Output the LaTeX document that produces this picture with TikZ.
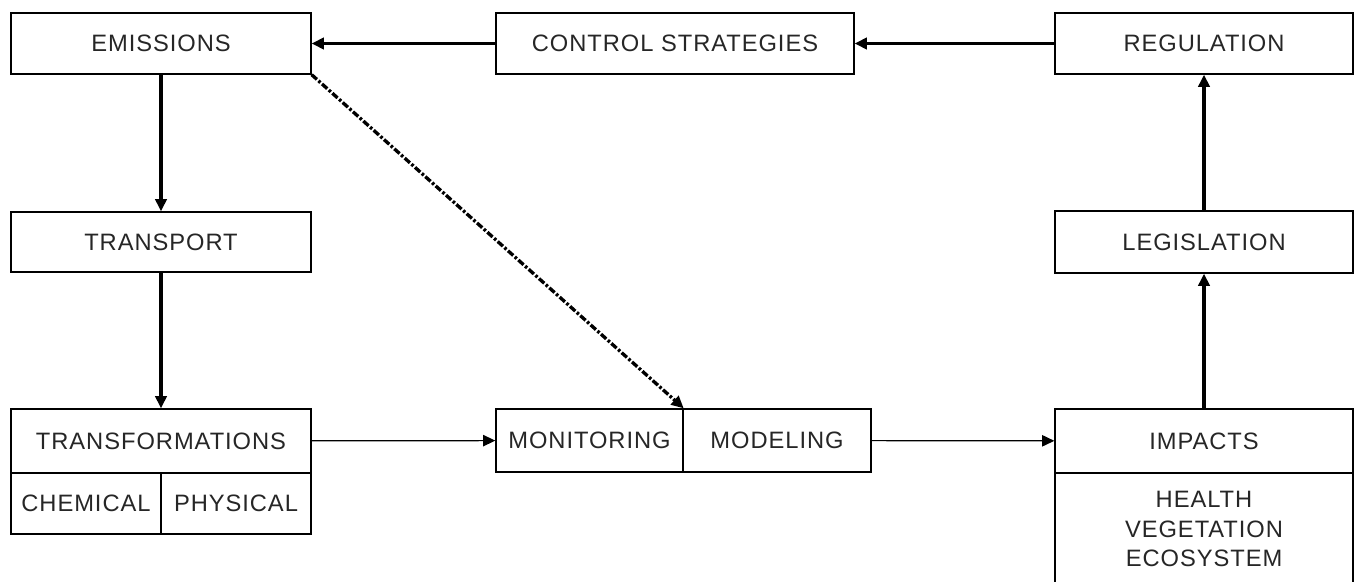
\documentclass[tikz,border=0pt]{standalone}
\usepackage{fontspec}
\setmainfont[LetterSpace=4]{Liberation Sans}
\usetikzlibrary{arrows.meta}

\begin{document}
\begin{tikzpicture}[x=0.02cm,y=-0.02cm,
every node/.style = {
shape= rectangle,
draw,
line width     = 0.8pt,
inner sep      = 0pt,
align          = center,
font           = \fontsize{13.5}{17}\selectfont,
text           = black!85},
thick edge/.style = {-{Triangle[length=7pt,width=6.5pt]},
line width = 1.8pt,
black},
thin edge/.style  = {-{Triangle[length=7pt,width=6.5pt]},
line width = 0.7pt,
black},
dash edge/.style  = {-{Triangle[length=7pt,width=6.5pt]},
line width = 1.9pt,
dash pattern = on 4pt off 1.2pt on 1.5pt off 1.2pt,
black}
]
\useasboundingbox (0,0) rectangle (1354,581);
\node[minimum width=6cm,   minimum height=1.22cm] (emis)  at (161,43.5) {EMISSIONS};
\node[minimum width=7.16cm,minimum height=1.22cm] (ctrl)  at (675,43.5) {CONTROL STRATEGIES};
\node[minimum width=5.96cm,minimum height=1.22cm] (regu)  at (1204,43.5) {REGULATION};
\node[minimum width=6cm,   minimum height=1.2cm]  (trans) at (161,242) {TRANSPORT};
\node[minimum width=5.96cm,minimum height=1.24cm] (legis) at (1204,242) {LEGISLATION};
\node[minimum width=6cm,   minimum height=1.28cm] (trsf)  at (161,441) {TRANSFORMATIONS};
\node[minimum width=3cm,   minimum height=1.22cm] (chem)  at (86,503.5) {CHEMICAL};
\node[minimum width=3cm,   minimum height=1.22cm] (phys)  at (236,503.5) {PHYSICAL};
\node[minimum width=3.74cm,minimum height=1.26cm] (moni)  at (589.5,440.5) {MONITORING};
\node[minimum width=3.76cm,minimum height=1.26cm] (mode)  at (777,440.5) {MODELING};
\node[minimum width=5.96cm,minimum height=1.28cm] (imp)   at (1204,441) {IMPACTS};
\node[minimum width=5.96cm,minimum height=2.24cm] (impx)  at (1204,529) {HEALTH\\VEGETATION\\ECOSYSTEM};
%
\draw[thick edge] (ctrl) -- (emis);
\draw[thick edge] (regu) -- (ctrl);
\draw[thick edge] (emis) -- (trans);
\draw[thick edge] (trans) -- (trsf);
\draw[thin edge] (trsf) -- (moni);
\draw[thin edge] (mode) -- (imp);
\draw[thick edge] (imp) -- (legis);
\draw[thick edge] (legis) -- (regu);
\draw[dash edge] (emis.south east) -- (moni.north east);
%
\end{tikzpicture}
\end{document}
